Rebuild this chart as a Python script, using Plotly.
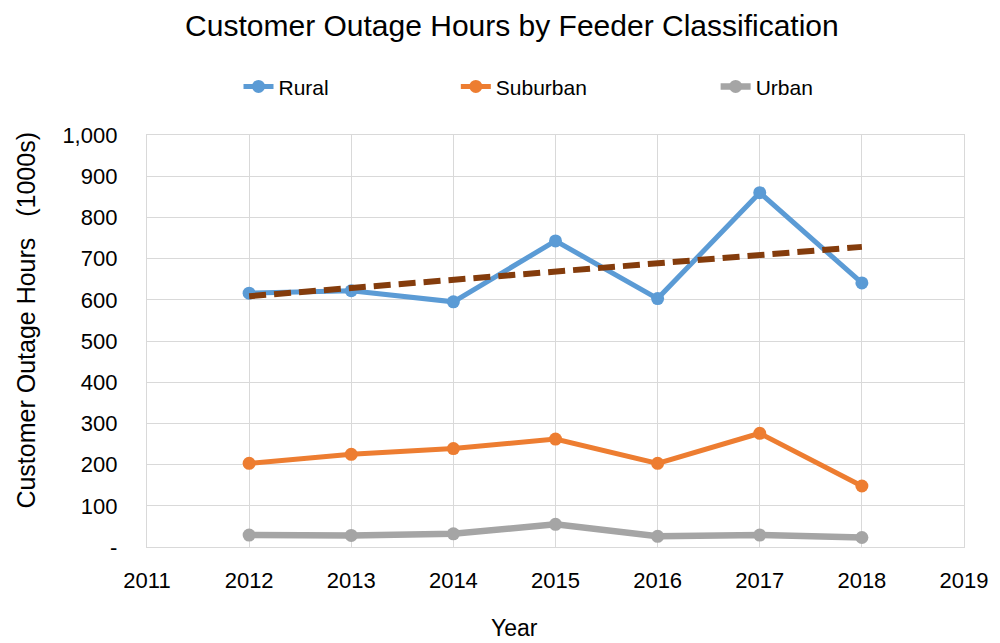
import numpy as np
import plotly.graph_objects as go

years = [2012, 2013, 2014, 2015, 2016, 2017, 2018]
rural = [616, 622, 595, 743, 603, 860, 641]
suburban = [203, 225, 239, 262, 203, 276, 148]
urban = [29, 28, 32, 55, 26, 29, 23]

y_tickvals = [0, 100, 200, 300, 400, 500, 600, 700, 800, 900, 1000]
y_ticktext = ["-", "100", "200", "300", "400", "500", "600", "700", "800", "900", "1,000"]
x_tickvals = [2011, 2012, 2013, 2014, 2015, 2016, 2017, 2018, 2019]

# linear trend of Rural
coef = np.polyfit(years, rural, 1)
trend = [coef[0] * x + coef[1] for x in years]

FONT = "Liberation Sans, Arial, sans-serif"
fig = go.Figure()
series = [("Rural", rural, "#5b9bd5", 5, "legend", 0.112),
          ("Suburban", suburban, "#ed7d31", 5, "legend2", 0.378),
          ("Urban", urban, "#a5a5a5", 6.5, "legend3", 0.696)]
for name, vals, col, w, lg, _ in series:
    fig.add_trace(go.Scatter(x=years, y=vals, name=name, mode="lines+markers", legend=lg,
                             line=dict(color=col, width=w), marker=dict(color=col, size=13)))
fig.add_trace(go.Scatter(x=years, y=trend, mode="lines", showlegend=False,
                         line=dict(color="#843c0c", width=6, dash="17px,8px")))

legend_common = dict(orientation="h", xanchor="left", y=1.117, yanchor="middle",
                     font=dict(size=21, family=FONT), bgcolor="rgba(0,0,0,0)")
layout_legends = {}
for name, vals, col, w, lg, xpos in series:
    layout_legends[lg] = dict(legend_common, x=xpos)

fig.update_layout(
    width=992, height=635,
    paper_bgcolor="white", plot_bgcolor="white",
    margin=dict(l=139, r=32, t=127, b=96),
    font=dict(family=FONT, color="black", size=22),
    title=dict(text="Customer Outage Hours by Feeder Classification", x=0.508, xanchor="center",
               y=1 - 17 / 635, yanchor="middle", font=dict(size=30, family=FONT)),
    showlegend=True,
    **layout_legends,
)
fig.update_xaxes(range=[2011, 2019], tickvals=x_tickvals, showgrid=True, gridcolor="#d9d9d9",
                 gridwidth=1.3, showline=True, linecolor="#d9d9d9", linewidth=1.3, mirror=True,
                 zeroline=False, ticks="", tickfont=dict(size=22), ticklabelstandoff=13)
fig.update_yaxes(range=[0, 1000], tickvals=y_tickvals, ticktext=y_ticktext, showgrid=True,
                 gridcolor="#d9d9d9", gridwidth=1.3, showline=True, linecolor="#d9d9d9", linewidth=1.3,
                 mirror=True, zeroline=False, ticks="", tickfont=dict(size=22), ticklabelstandoff=24)

# axis titles placed as in the reference
fig.add_annotation(text="Customer Outage Hours   (1000s)", textangle=-90, xref="paper", yref="paper",
                   x=(25 - 147) / 821, y=(547 - 320) / 412, xanchor="center", yanchor="middle",
                   showarrow=False, font=dict(size=25, family=FONT))
fig.add_annotation(text="Year", xref="paper", yref="paper",
                   x=(516 - 147) / 821, y=(547 - 628) / 412, xanchor="center", yanchor="middle",
                   showarrow=False, font=dict(size=23, family=FONT))

fig.write_html("out.html")
